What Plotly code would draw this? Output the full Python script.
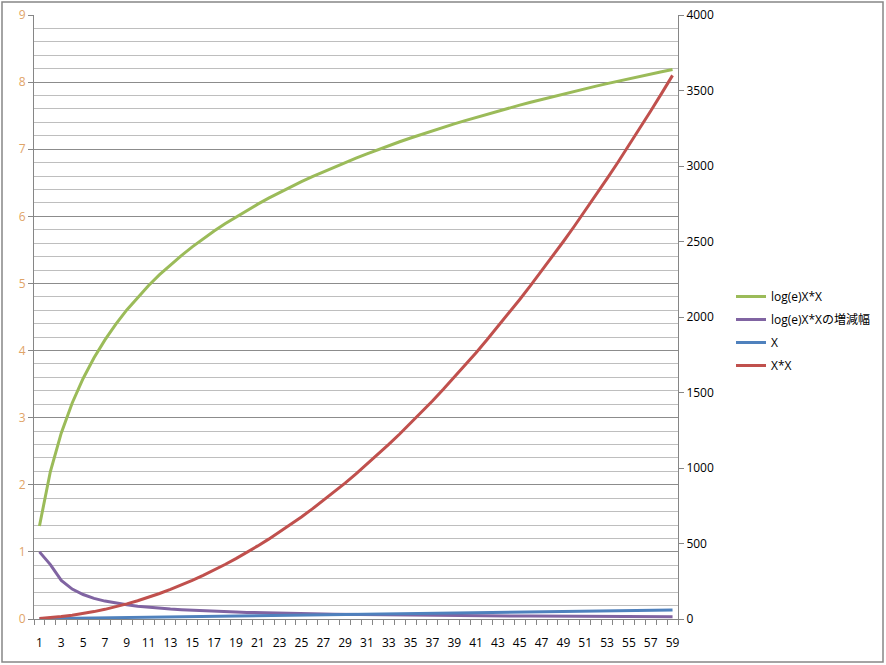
import plotly.graph_objects as go

# x の値 (カテゴリ 1..59)
categories = list(range(1, 60))

# log(e)X*X
log_xx = [1.386, 2.197, 2.773, 3.219, 3.584, 3.892, 4.159, 4.394, 4.605, 4.796,
          4.970, 5.130, 5.278, 5.416, 5.545, 5.666, 5.781, 5.889, 5.991, 6.089,
          6.182, 6.271, 6.356, 6.438, 6.516, 6.592, 6.664, 6.735, 6.802, 6.868,
          6.931, 6.993, 7.052, 7.111, 7.167, 7.222, 7.275, 7.328, 7.378, 7.427,
          7.475, 7.522, 7.568, 7.613, 7.657, 7.700, 7.742, 7.784, 7.824, 7.863,
          7.902, 7.940, 7.978, 8.015, 8.051, 8.086, 8.121, 8.155, 8.189]

# log(e)X*Xの増減幅
log_xx_diff = [1.0, 0.811, 0.575, 0.446, 0.365, 0.308, 0.267, 0.236, 0.211, 0.191,
               0.174, 0.160, 0.148, 0.138, 0.129, 0.121, 0.114, 0.108, 0.103, 0.098,
               0.093, 0.089, 0.085, 0.082, 0.078, 0.075, 0.073, 0.070, 0.068, 0.066,
               0.063, 0.062, 0.060, 0.058, 0.056, 0.055, 0.053, 0.052, 0.050, 0.049,
               0.048, 0.047, 0.046, 0.045, 0.044, 0.043, 0.042, 0.041, 0.040, 0.039,
               0.039, 0.038, 0.037, 0.036, 0.036, 0.035, 0.035, 0.034, 0.034]

# X
x_vals = [2, 3, 4, 5, 6, 7, 8, 9, 10, 11, 12, 13, 14, 15, 16, 17, 18, 19, 20, 21,
          22, 23, 24, 25, 26, 27, 28, 29, 30, 31, 32, 33, 34, 35, 36, 37, 38, 39, 40,
          41, 42, 43, 44, 45, 46, 47, 48, 49, 50, 51, 52, 53, 54, 55, 56, 57, 58, 59, 60]

# X*X
xx_vals = [4, 9, 16, 25, 36, 49, 64, 81, 100, 121, 144, 169, 196, 225, 256, 289,
           324, 361, 400, 441, 484, 529, 576, 625, 676, 729, 784, 841, 900, 961,
           1024, 1089, 1156, 1225, 1296, 1369, 1444, 1521, 1600, 1681, 1764, 1849,
           1936, 2025, 2116, 2209, 2304, 2401, 2500, 2601, 2704, 2809, 2916, 3025,
           3136, 3249, 3364, 3481, 3600]

x_ticks = list(range(1, 60, 2))
left_ticks = list(range(0, 10))
right_ticks = list(range(0, 4001, 500))

FONT = "Open Sans, Noto Sans CJK JP, sans-serif"
W, H = 886, 665
L, R, T, B = 34, 208, 15, 46
pw, ph = W - L - R, H - T - B


def px(v):
    return (v - L) / pw


def py(v):
    return (H - B - v) / ph


fig = go.Figure()
series = [
    ("log(e)X*X", log_xx, "#9BBB59", "y"),
    ("log(e)X*Xの増減幅", log_xx_diff, "#8064A2", "y"),
    ("X", x_vals, "#4F81BD", "y2"),
    ("X*X", xx_vals, "#C0504D", "y2"),
]
for name, vals, color, axis in series:
    fig.add_trace(go.Scatter(x=categories, y=vals, name=name, mode="lines",
                             line=dict(color=color, width=3), yaxis=axis,
                             legendgroup=name))

fig.update_layout(
    width=W, height=H,
    margin=dict(l=L, r=R, t=T, b=B, autoexpand=False),
    paper_bgcolor="white", plot_bgcolor="white",
    font=dict(family=FONT, size=12, color="#000000"),
    showlegend=True,
    legend=dict(x=px(731), y=py(282), xanchor="left", yanchor="top",
                font=dict(size=12), tracegroupgap=4, itemwidth=30,
                bgcolor="rgba(0,0,0,0)"),
    xaxis=dict(range=[0.5, 59.5], tickvals=x_ticks, ticks="", showgrid=False,
               showline=True, linecolor="#868686", linewidth=1, zeroline=False,
               ticklabelstandoff=13, tickfont=dict(size=12),
               minor=dict(tick0=0.5, dtick=1, ticks="outside", ticklen=5,
                          tickcolor="#868686", showgrid=False)),
    yaxis=dict(range=[0, 9], tickvals=left_ticks, ticks="outside", ticklen=5,
               tickcolor="#868686", showline=True, linecolor="#868686",
               gridcolor="#8C8C8C", gridwidth=1, zeroline=False,
               tickfont=dict(color="#DFA468", size=12),
               minor=dict(dtick=0.2, showgrid=True, gridcolor="#BEBEBE",
                          gridwidth=1, ticks="")),
    yaxis2=dict(range=[0, 4000], tickvals=right_ticks, overlaying="y", side="right",
                ticks="outside", ticklen=5, tickcolor="#868686", showline=True,
                linecolor="#868686", showgrid=False, zeroline=False,
                tickfont=dict(size=12)),
    shapes=[dict(type="rect", xref="paper", yref="paper",
                 x0=px(2), x1=px(883), y0=py(662), y1=py(2),
                 line=dict(color="#868686", width=1.5), layer="below")],
)

# ページ余白をなくす
fig.write_html("out.html", config={"displayModeBar": False},
               post_script="document.body.style.margin='0px';")
